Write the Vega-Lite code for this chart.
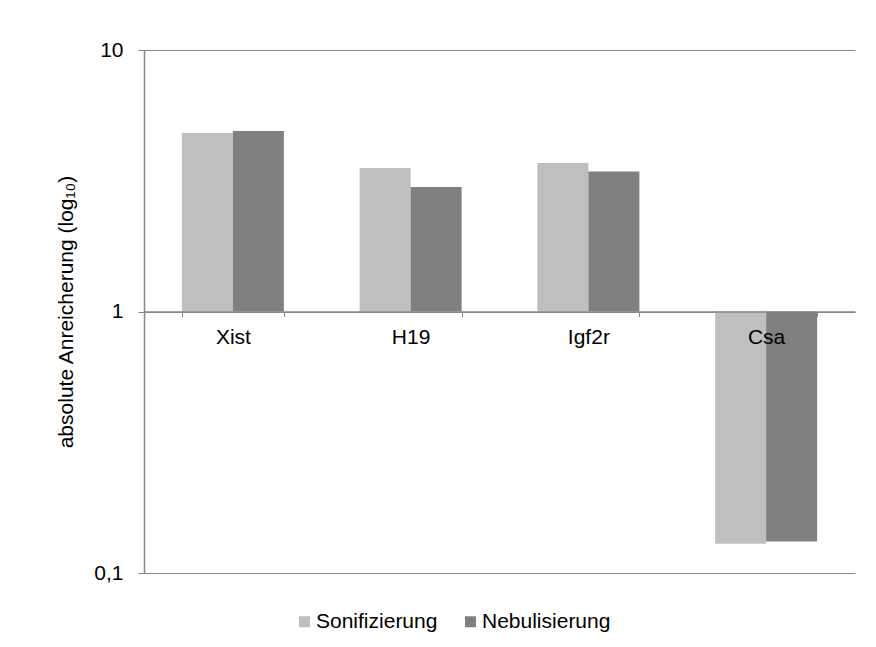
{
  "$schema": "https://vega.github.io/schema/vega-lite/v6.json",
  "width": 711,
  "height": 523,
  "autosize": {"type": "none"},
  "padding": {"left": 144, "top": 50, "right": 21, "bottom": 74},
  "background": "white",
  "config": {
    "view": {"stroke": null},
    "font": "Liberation Sans",
    "axis": {
      "labelFont": "Liberation Sans",
      "titleFont": "Liberation Sans",
      "labelColor": "#000000",
      "titleColor": "#000000",
      "domainColor": "#868686",
      "tickColor": "#868686",
      "gridColor": "#868686",
      "gridOpacity": 1
    },
    "legend": {"labelFont": "Liberation Sans", "labelColor": "#000000"}
  },
  "data": {
    "values": [
      {"gene": "Xist", "method": "Sonifizierung", "value": 4.82},
      {"gene": "Xist", "method": "Nebulisierung", "value": 4.90},
      {"gene": "H19", "method": "Sonifizierung", "value": 3.54},
      {"gene": "H19", "method": "Nebulisierung", "value": 2.99},
      {"gene": "Igf2r", "method": "Sonifizierung", "value": 3.70},
      {"gene": "Igf2r", "method": "Nebulisierung", "value": 3.43},
      {"gene": "Csa", "method": "Sonifizierung", "value": 0.1295},
      {"gene": "Csa", "method": "Nebulisierung", "value": 0.132}
    ]
  },
  "mark": {"type": "bar"},
  "encoding": {
    "x": {
      "field": "gene",
      "type": "nominal",
      "sort": ["Xist", "H19", "Igf2r", "Csa"],
      "scale": {"paddingInner": 0.426, "paddingOuter": 0.213},
      "axis": {
        "title": null,
        "orient": "bottom",
        "offset": -261.5,
        "labelAngle": 0,
        "labelFontSize": 21,
        "labelPadding": 10,
        "tickBand": "extent",
        "tickSize": 5,
        "domainWidth": 1.5,
        "zindex": 1
      }
    },
    "xOffset": {
      "field": "method",
      "type": "nominal",
      "sort": ["Sonifizierung", "Nebulisierung"],
      "scale": {"paddingInner": 0, "paddingOuter": 0}
    },
    "y": {
      "field": "value",
      "type": "quantitative",
      "scale": {"type": "log", "domain": [0.1, 10]},
      "axis": {
        "title": "absolute Anreicherung (log₁₀)",
        "titleFontSize": 21,
        "titleFontWeight": "normal",
        "titlePadding": 17,
        "values": [0.1, 1, 10],
        "labelExpr": "replace(format(datum.value, '~g'), '.', ',')",
        "labelFontSize": 21,
        "labelPadding": 15,
        "tickSize": 6,
        "grid": true,
        "domainWidth": 1.5
      }
    },
    "y2": {"datum": 1},
    "color": {
      "field": "method",
      "type": "nominal",
      "sort": ["Sonifizierung", "Nebulisierung"],
      "scale": {"range": ["#bfbfbf", "#808080"]},
      "legend": {
        "title": null,
        "orient": "none",
        "direction": "horizontal",
        "legendX": 150,
        "legendY": 561,
        "symbolType": "square",
        "symbolSize": 121,
        "symbolStrokeWidth": 0,
        "labelFontSize": 21,
        "labelOffset": 1,
        "columnPadding": 22
      }
    }
  }
}
